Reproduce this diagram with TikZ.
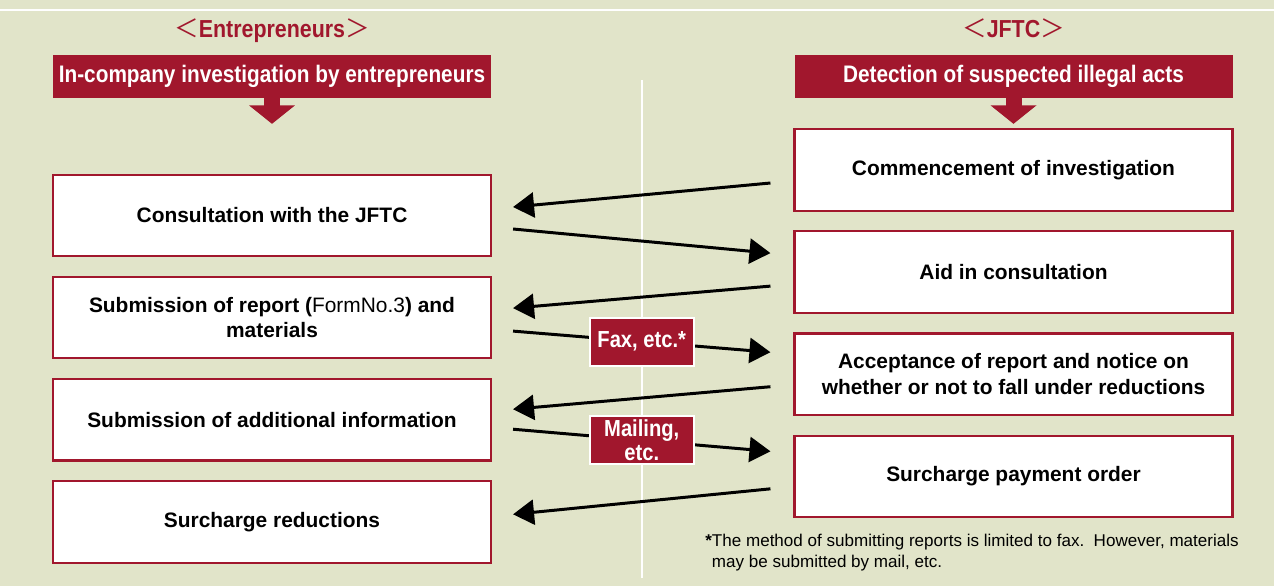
\documentclass[tikz,border=0pt]{standalone}
\usepackage{fontspec}
\setmainfont{Liberation Sans}
\newfontfamily\narrowfont[FakeStretch=0.87]{Liberation Sans}
\newfontfamily\cjk{Noto Sans CJK JP}
\usetikzlibrary{arrows.meta,positioning,calc}
\definecolor{jred}{RGB}{161,23,45}
\definecolor{jbg}{RGB}{225,228,201}
\tikzset{
 stepbox/.style={draw=jred,line width=1.2pt,fill=white,align=center,minimum height=1.63cm,
             minimum width=8.76cm,font=\fontsize{11.9}{14.5}\selectfont\bfseries},
 headbox/.style={fill=jred,text=white,minimum height=0.86cm,minimum width=8.76cm,
             font=\narrowfont\fontsize{13.6}{15}\selectfont\bfseries},
 sidelabel/.style={text=jred,anchor=base,font=\narrowfont\fontsize{14}{16}\selectfont\bfseries},
 flow/.style={-{Triangle[length=4.2mm,width=5mm]},line width=1.7pt},
 headarrow/.style={-{Triangle[length=3.7mm,width=9mm]},line width=3.2mm,jred},
 tag/.style={fill=jred,draw=white,line width=1pt,text=white,align=center,minimum width=2.08cm,
             minimum height=0.96cm,inner sep=1pt,font=\narrowfont\fontsize{13.2}{13.8}\selectfont\bfseries}
}

\begin{document}
\begin{tikzpicture}[node distance=0.37cm]
\fill[jbg] (0,0) rectangle (25.48,-11.72);
\useasboundingbox (0,0) rectangle (25.48,-11.72);
\draw[white,line width=1.2pt] (0,-0.2) -- (25.48,-0.2);
\draw[white,line width=1.2pt] (12.84,-1.6) -- (12.84,-11.56);

% headings
\node[sidelabel] (entlabel) at (5.44,-0.76) {{\cjk\mdseries ＜}Entrepreneurs{\cjk\mdseries ＞}};
\node[sidelabel] (jftclabel) at (20.27,-0.76) {{\cjk\mdseries ＜}JFTC{\cjk\mdseries ＞}};
\node[headbox] (enthead) at (5.44,-1.53) {In-company investigation by entrepreneurs};
\node[headbox] (jftchead) at (20.27,-1.53) {Detection of suspected illegal acts};
\draw[headarrow] (enthead.south) -- ++(0,-0.51);
\draw[headarrow] (jftchead.south) -- ++(0,-0.51);

% entrepreneurs side
\node[stepbox] (consult) at (5.44,-4.31) {Consultation with the JFTC};
\node[stepbox,below=of consult] (report) {Submission of report (\textmd{FormNo.3}) and\\materials};
\node[stepbox,below=of report] (addinfo) {Submission of additional information};
\node[stepbox,below=of addinfo] (reduce) {Surcharge reductions};

% JFTC side
\node[stepbox] (commence) at (20.27,-3.40) {Commencement of investigation};
\node[stepbox,below=of commence] (aid) {Aid in consultation};
\node[stepbox,below=of aid] (accept) {Acceptance of report and notice on\\whether or not to fall under reductions};
\node[stepbox,below=of accept] (payorder) {Surcharge payment order};

% exchanges
\draw[flow] ([xshift=-0.46cm,yshift=-0.26cm]commence.west) -- ([xshift=0.42cm,yshift=0.17cm]consult.east);
\draw[flow] ([xshift=0.42cm,yshift=-0.27cm]consult.east) -- ([xshift=-0.46cm,yshift=0.38cm]aid.west);
\draw[flow] ([xshift=-0.46cm,yshift=-0.28cm]aid.west) -- ([xshift=0.42cm,yshift=0.19cm]report.east);
\draw[flow] ([xshift=0.42cm,yshift=-0.27cm]report.east) -- node[tag] (fax) {Fax, etc.*}
  ([xshift=-0.46cm,yshift=0.44cm]accept.west);
\draw[flow] ([xshift=-0.46cm,yshift=-0.25cm]accept.west) -- ([xshift=0.42cm,yshift=0.21cm]addinfo.east);
\draw[flow] ([xshift=0.42cm,yshift=-0.19cm]addinfo.east) -- node[tag] (mail) {Mailing,\\etc.}
  ([xshift=-0.46cm,yshift=0.50cm]payorder.west);
\draw[flow] ([xshift=-0.46cm,yshift=-0.25cm]payorder.west) -- ([xshift=0.42cm,yshift=0.15cm]reduce.east);

\node[anchor=north west,inner sep=0pt,align=left,font=\fontsize{9.7}{12}\selectfont] (note) at (14.1,-10.68)
  {\textbf{*}The method of submitting reports is limited to fax.\ \ However, materials\\
   \hphantom{\textbf{*}}may be submitted by mail, etc.};
\end{tikzpicture}
\end{document}
